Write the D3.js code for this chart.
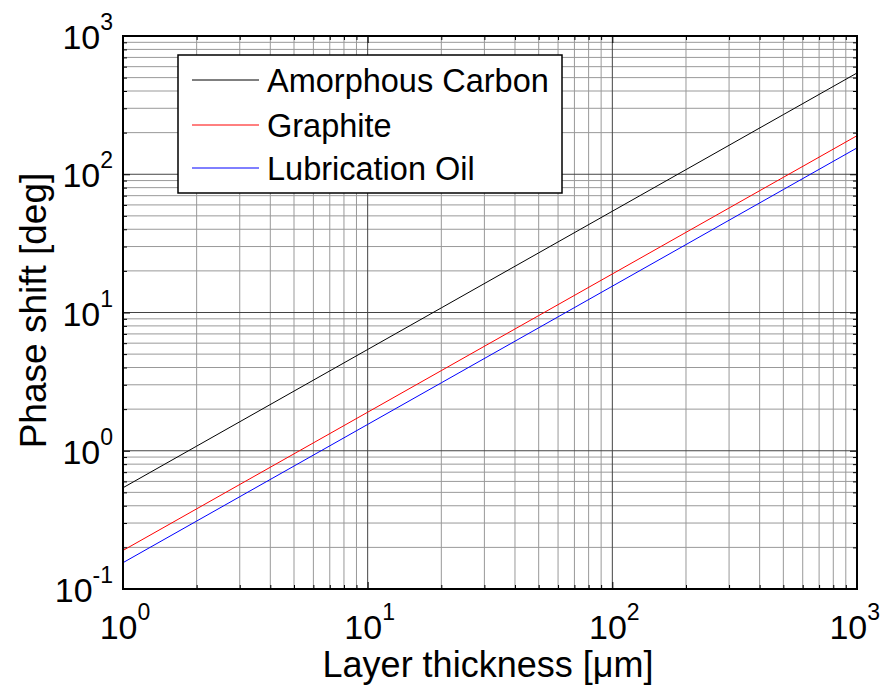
<!DOCTYPE html>
<html>
<head>
<meta charset="utf-8">
<script src="https://cdn.jsdelivr.net/npm/d3@7"></script>
<style>
  html, body { margin: 0; padding: 0; background: #fff; }
  svg text { font-family: "Liberation Sans", Arial, sans-serif; fill: #000; }
</style>
</head>
<body>
<svg id="chart" width="882" height="686"></svg>
<script>
// ---- data ----
const thickness = [1, 2, 5, 10, 20, 50, 100, 200, 500, 1000];
const amorphousCarbon = [0.54, 1.08, 2.7, 5.4, 10.8, 27, 54, 108, 270, 540];
const graphite = [0.19, 0.38, 0.95, 1.9, 3.8, 9.5, 19, 38, 95, 190];
const lubricationOil = [0.155, 0.31, 0.775, 1.55, 3.1, 7.75, 15.5, 31, 77.5, 155];
const seriesNames = ["Amorphous Carbon", "Graphite", "Lubrication Oil"];
const seriesColors = ["#000000", "#ff0000", "#0000ff"];
const xTickExps = [0, 1, 2, 3];
const yTickExps = [-1, 0, 1, 2, 3];
const xLabel = "Layer thickness [\u03bcm]";
const yLabel = "Phase shift [deg]";

const series = [amorphousCarbon, graphite, lubricationOil];

const svg = d3.select("#chart");
const m = { left: 123, right: 857, top: 36, bottom: 589 };

const x = d3.scaleLog().domain([1, 1000]).range([m.left, m.right]);
const y = d3.scaleLog().domain([0.1, 1000]).range([m.bottom, m.top]);

function logTicks(lo, hi) {
  const minor = [], major = [];
  for (let e = lo; e <= hi; e++) {
    major.push(Math.pow(10, e));
    if (e < hi) for (let k = 2; k <= 9; k++) minor.push(k * Math.pow(10, e));
  }
  return { minor, major };
}
const xt = logTicks(0, 3), yt = logTicks(-1, 3);

const g = svg.append("g");

// grid: minor
g.selectAll(".gxm").data(xt.minor).enter().append("line")
  .attr("x1", d => x(d)).attr("x2", d => x(d)).attr("y1", m.top).attr("y2", m.bottom)
  .attr("stroke", "#999").attr("stroke-width", 1);
g.selectAll(".gym").data(yt.minor).enter().append("line")
  .attr("y1", d => y(d)).attr("y2", d => y(d)).attr("x1", m.left).attr("x2", m.right)
  .attr("stroke", "#999").attr("stroke-width", 1);
// grid: major
g.selectAll(".gxM").data(xt.major).enter().append("line")
  .attr("x1", d => x(d)).attr("x2", d => x(d)).attr("y1", m.top).attr("y2", m.bottom)
  .attr("stroke", "#444").attr("stroke-width", 1);
g.selectAll(".gyM").data(yt.major).enter().append("line")
  .attr("y1", d => y(d)).attr("y2", d => y(d)).attr("x1", m.left).attr("x2", m.right)
  .attr("stroke", "#444").attr("stroke-width", 1);

function ticksAxis(gen, tr, vals, size) {
  const a = g.append("g").attr("transform", tr)
    .call(gen.tickValues(vals).tickSize(size).tickFormat(""));
  a.select(".domain").remove();
  a.selectAll("line").attr("stroke", "#000").attr("stroke-width", 1);
}
ticksAxis(d3.axisBottom(x), `translate(0,${m.bottom})`, xt.major, -7);
ticksAxis(d3.axisBottom(x), `translate(0,${m.bottom})`, xt.minor, -4);
ticksAxis(d3.axisTop(x), `translate(0,${m.top})`, xt.major, -7);
ticksAxis(d3.axisTop(x), `translate(0,${m.top})`, xt.minor, -4);
ticksAxis(d3.axisLeft(y), `translate(${m.left},0)`, yt.major, -7);
ticksAxis(d3.axisLeft(y), `translate(${m.left},0)`, yt.minor, -4);
ticksAxis(d3.axisRight(y), `translate(${m.right},0)`, yt.major, -7);
ticksAxis(d3.axisRight(y), `translate(${m.right},0)`, yt.minor, -4);

// data lines
const line = d3.line().x(d => x(d[0])).y(d => y(d[1]));
series.forEach((vals, i) => {
  g.append("path")
    .datum(thickness.map((t, j) => [t, vals[j]]))
    .attr("d", line).attr("fill", "none")
    .attr("stroke", seriesColors[i]).attr("stroke-width", 1);
});

// box
g.append("rect").attr("x", m.left).attr("y", m.top)
  .attr("width", m.right - m.left).attr("height", m.bottom - m.top)
  .attr("fill", "none").attr("stroke", "#000").attr("stroke-width", 2);

// tick labels
const fs = 34, efs = 23;
xTickExps.forEach(e => {
  const t = g.append("text").attr("x", x(Math.pow(10, e)) + 2).attr("y", 639)
    .attr("font-size", fs).attr("text-anchor", "middle");
  t.append("tspan").text("10");
  t.append("tspan").attr("font-size", efs).attr("dy", -19).text(e);
  const bb = t.node().getBBox();
  const over = bb.x + bb.width - 880;
  if (over > 0) t.attr("x", +t.attr("x") - over);
});
yTickExps.forEach(e => {
  const yy = y(Math.pow(10, e));
  const t = g.append("text").attr("x", 113).attr("y", yy + 13)
    .attr("font-size", fs).attr("text-anchor", "end");
  t.append("tspan").text("10");
  t.append("tspan").attr("font-size", efs).attr("dy", -19).text(e);
});

// axis labels
g.append("text").attr("x", (m.left + m.right) / 2 - 2).attr("y", 677)
  .attr("font-size", 36).attr("text-anchor", "middle").text(xLabel);
g.append("text").attr("transform", `translate(46,${(m.top + m.bottom) / 2 - 2}) rotate(-90)`)
  .attr("font-size", 37).attr("text-anchor", "middle").text(yLabel);

// legend
const lg = g.append("g");
lg.append("rect").attr("x", 178).attr("y", 55).attr("width", 384).attr("height", 138)
  .attr("fill", "#fff").attr("stroke", "#000").attr("stroke-width", 1.5);
const rowY = [80, 125, 168];
seriesNames.forEach((n, i) => {
  lg.append("line").attr("x1", 192).attr("x2", 259).attr("y1", rowY[i]).attr("y2", rowY[i])
    .attr("stroke", seriesColors[i]).attr("stroke-width", 1);
  lg.append("text").attr("x", 267).attr("y", rowY[i] + 12).attr("font-size", 32.5).text(n);
});
</script>
</body>
</html>
